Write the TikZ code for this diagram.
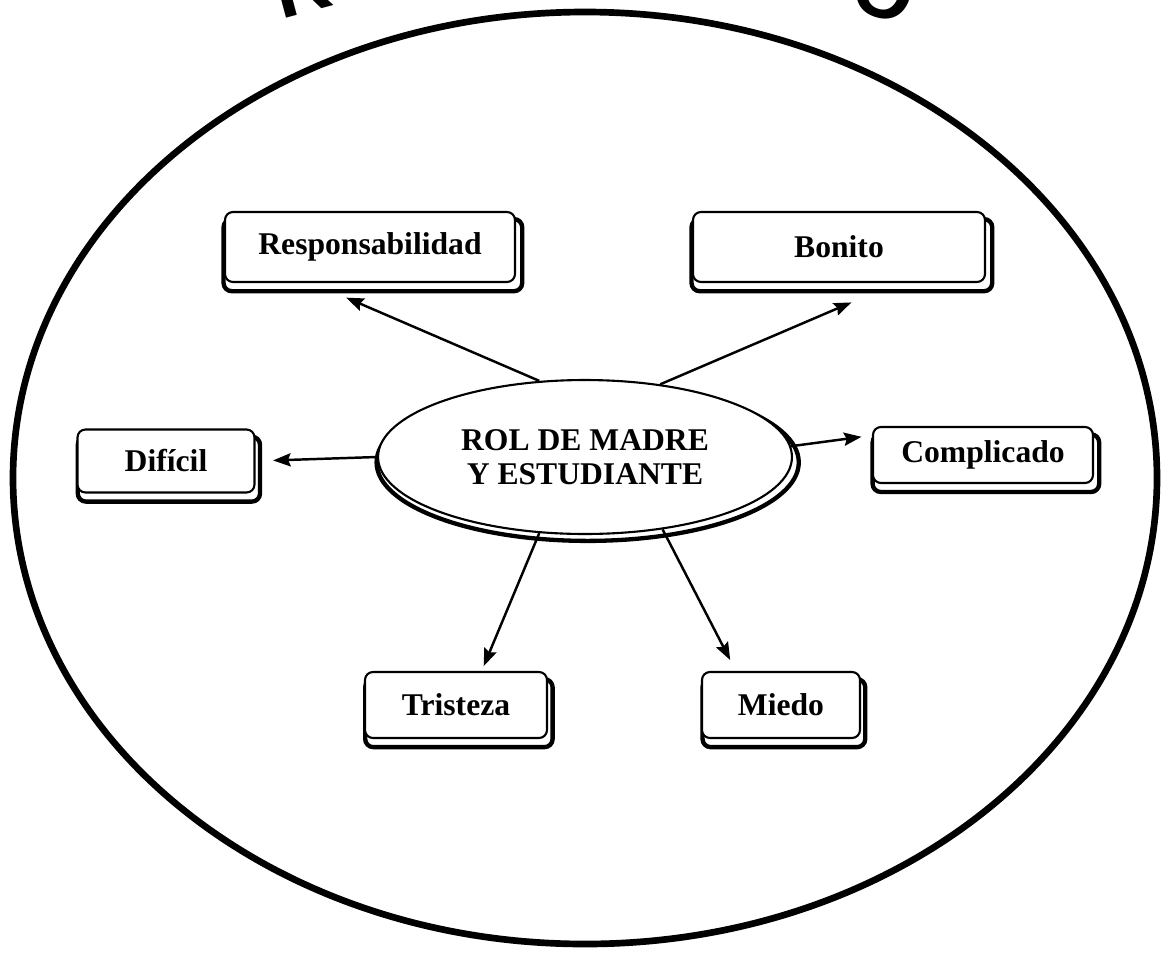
\documentclass[tikz,border=0pt]{standalone}
\usepackage{fontspec}
\setmainfont{Liberation Serif}
\newfontfamily\titlefont{Liberation Sans}
\usetikzlibrary{arrows.meta,shapes.geometric,shadows}

\begin{document}
\begin{tikzpicture}[x=0.02cm,y=-0.02cm,>={Stealth[length=10pt,width=7.5pt,inset=1.5pt]},shorten >=1pt,
  line width=1.2pt,
  box node/.style={rectangle,rounded corners=4.5pt,draw,fill=white,inner sep=0pt,
    font=\bfseries\fontsize{18}{19}\selectfont,
    general shadow={draw,fill=white,line width=2.4pt,shadow scale=1.03,shadow xshift=1.6pt,shadow yshift=-4.5pt}},
  hub node/.style={ellipse,draw,fill=white,inner sep=0pt,align=center,
    font=\bfseries\fontsize{18}{19}\selectfont,
    general shadow={draw,fill=white,line width=2.4pt,shadow scale=1.02,shadow xshift=1.5pt,shadow yshift=-3pt}},
  cut letter/.style={inner sep=0pt,font=\titlefont\bfseries\fontsize{44}{44}\selectfont}]

  \useasboundingbox (0,0) rectangle (1164,958);

  % heading, cut off by the page edge
  \node[cut letter,anchor=base west,rotate=15] (headR) at (280,20) {R};
  \node[cut letter,anchor=base,rotate=-18] (headO) at (876,17) {O};

  \draw[-,line width=3.8pt] (585,478) ellipse [x radius=572, y radius=466];

  \node[hub node,minimum width=8.28cm,minimum height=3.08cm] (hub) at (585,457) {ROL DE MADRE\\Y ESTUDIANTE};

  \node[box node,minimum width=5.8cm,minimum height=1.4cm]   (resp)  at (370,247) {Responsabilidad};
  \node[box node,minimum width=5.84cm,minimum height=1.4cm]  (bon)   at (839,247) {Bonito};
  \node[box node,minimum width=3.54cm,minimum height=1.26cm] (dif)   at (166,461) {Difícil};
  \node[box node,minimum width=4.4cm,minimum height=1.12cm]  (comp)  at (983,455) {Complicado};
  \node[box node,minimum width=3.64cm,minimum height=1.32cm] (tris)  at (456,705) {Tristeza};
  \node[box node,minimum width=3.16cm,minimum height=1.32cm] (mie)   at (781,705) {Miedo};

  \path[->,line width=1.4pt]
    (hub.121) edge[shorten >=21pt] (resp.212)
    (hub.44)  edge[shorten >=28pt] (bon.328)
    (hub.180) edge[shorten >=10pt] (dif.east)
    (hub.3)   edge[shorten >=6pt]  (comp.170)
    (hub.239) edge[shorten >=3pt]  (tris.53)
    (hub.317) edge[shorten >=7pt]  (mie.143);

\end{tikzpicture}
\end{document}
